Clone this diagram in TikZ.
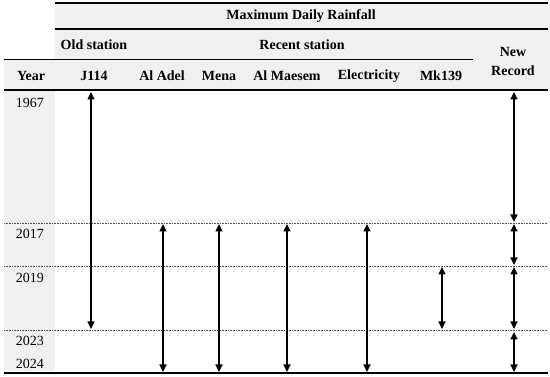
\documentclass[tikz,border=0pt]{standalone}
\usepackage{fontspec}
\setmainfont{Liberation Serif}
\usetikzlibrary{arrows.meta,positioning}
\definecolor{hdrgray}{RGB}{240,240,240}
\tikzset{
  head/.style={font=\fontsize{14}{16}\selectfont\bfseries,inner sep=1pt,anchor=center},
  yr/.style={font=\fontsize{14}{16}\selectfont,inner sep=1pt,anchor=center},
  rule/.style={line width=1.4pt},
  thinrule/.style={line width=0.9pt},
  sep/.style={densely dotted,line width=0.6pt,black!70},
  arr/.style={{Triangle[length=7.5pt,width=7pt]}-{Triangle[length=7.5pt,width=7pt]},line width=1.1pt}
}
\begin{document}
\begin{tikzpicture}[x=1pt,y=-1pt]
\useasboundingbox (0,0) rectangle (550,377);
% shading
\fill[hdrgray] (55,3) rectangle (550,59);
\fill[hdrgray] (4,59) rectangle (550,90);
\fill[hdrgray] (4,90) rectangle (55,371);
% rules
\draw[rule] (55,3) -- (548,3);
\draw[rule] (55,29) -- (548,29);
\draw[thinrule] (4,59) -- (473,59);
\draw[rule] (4,90) -- (548,90);
\draw[sep] (4,223) -- (548,223);
\draw[sep] (4,266) -- (548,266);
\draw[sep] (4,330) -- (548,330);
\draw[rule] (4,373) -- (548,373);
% header
\node[head] (title) at (301,16) {Maximum Daily Rainfall};
\node[head] (old) at (94,45) {Old station};
\node[head] (recent) at (302,45) {Recent station};
\node[head,align=center] (new) at (513,61) {New\\[3pt]Record};
\node[head] (year) at (31,76) {Year};
\node[head] (j114) at (94,76) {J114};
\node[head] (adel) at (162,76) {Al Adel};
\node[head] (mena) at (219,76) {Mena};
\node[head] (maesem) at (287,76) {Al Maesem};
\node[head] (elec) at (369,76) {Electricity};
\node[head] (mk139) at (441,76) {Mk139};
% years
\node[yr] (y1967) at (30,103) {1967};
\node[yr] (y2017) at (30,234) {2017};
\node[yr] (y2019) at (30,278) {2019};
\node[yr] (y2023) at (30,341) {2023};
\node[yr] (y2024) at (30,364) {2024};
% arrow ends
\coordinate (j114a) at (91,92);
\coordinate (j114b) at (91,329);
\coordinate (adela) at (163,224);
\coordinate (adelb) at (163,372);
\coordinate (menaa) at (219,224);
\coordinate (menab) at (219,372);
\coordinate (maesema) at (287,224);
\coordinate (maesemb) at (287,372);
\coordinate (eleca) at (367,224);
\coordinate (elecb) at (367,372);
\coordinate (mka) at (442,267);
\coordinate (mkb) at (442,329);
\coordinate (nr1) at (514,92);
\coordinate (nr2) at (514,222);
\coordinate (nr3) at (514,224);
\coordinate (nr4) at (514,265);
\coordinate (nr5) at (514,267);
\coordinate (nr6) at (514,329);
\coordinate (nr7) at (514,332);
\coordinate (nr8) at (514,372);
\draw[arr] (j114a) -- (j114b);
\draw[arr] (adela) -- (adelb);
\draw[arr] (menaa) -- (menab);
\draw[arr] (maesema) -- (maesemb);
\draw[arr] (eleca) -- (elecb);
\draw[arr] (mka) -- (mkb);
\draw[arr] (nr1) -- (nr2);
\draw[arr] (nr3) -- (nr4);
\draw[arr] (nr5) -- (nr6);
\draw[arr] (nr7) -- (nr8);
\end{tikzpicture}
\end{document}
